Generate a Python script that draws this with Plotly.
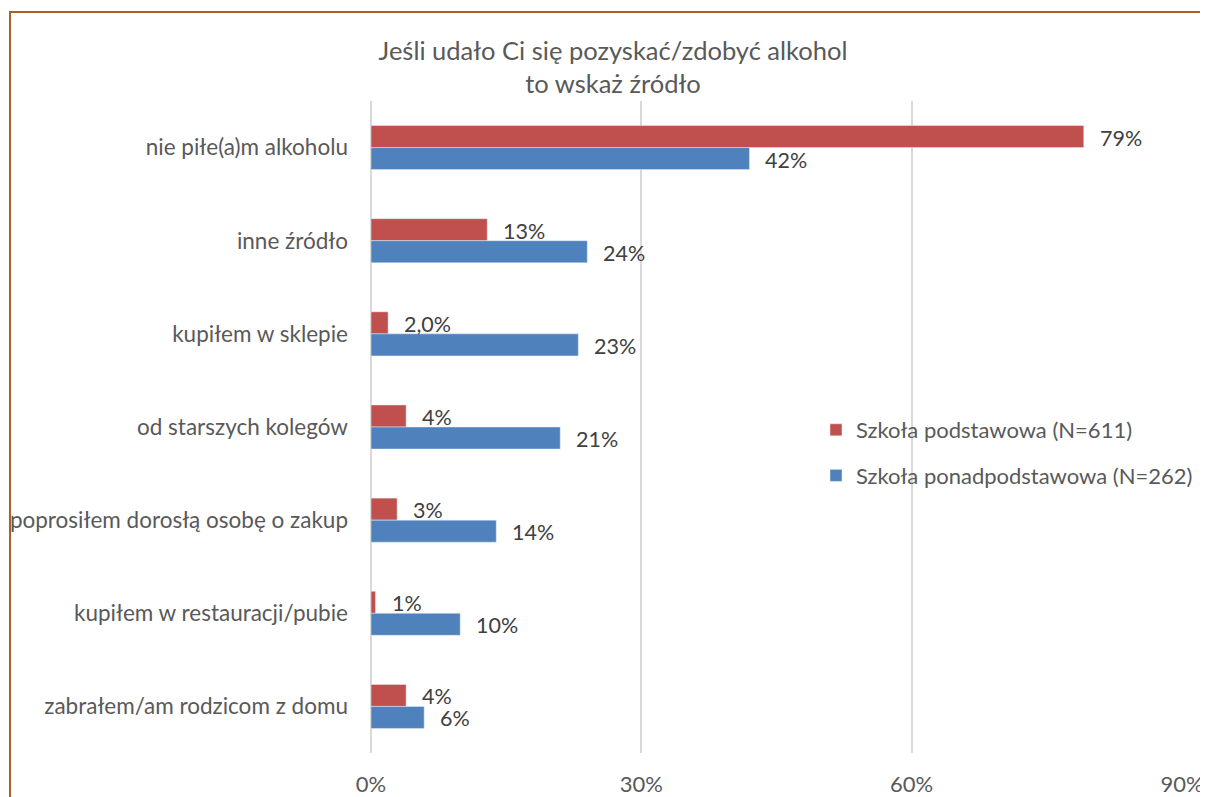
import plotly.graph_objects as go

categories = [
    "nie piłe(a)m alkoholu",
    "inne źródło",
    "kupiłem w sklepie",
    "od starszych kolegów",
    "poprosiłem dorosłą osobę o zakup",
    "kupiłem w restauracji/pubie",
    "zabrałem/am rodzicom z domu",
]
podstawowa = [79.1, 12.9, 1.9, 3.9, 2.9, 0.5, 3.9]
ponadpodstawowa = [42.0, 24.0, 23.0, 21.0, 13.9, 9.9, 5.9]
podstawowa_labels = ["79%", "13%", "2,0%", "4%", "3%", "1%", "4%"]
ponadpodstawowa_labels = ["42%", "24%", "23%", "21%", "14%", "10%", "6%"]
series_names = ["Szkoła podstawowa (N=611)", "Szkoła ponadpodstawowa (N=262)"]

RED = "#C0504D"
BLUE = "#4F81BD"
BROWN = "#AF5E24"
GREY_TEXT = "#595959"
FONT = "Lato, 'Open Sans', sans-serif"

# the page body has an 8px margin, so the figure is drawn 8px in from the window edge.
# The figure is made a bit wider than the window so the legend has room and
# the frame simply runs off the right edge, as in the original.
OFF = 8
W, H = 1240, 797 - OFF
PLOT_LEFT, PLOT_RIGHT, PLOT_TOP, PLOT_BOTTOM = 371, 1182, 101, 753
L = PLOT_LEFT - OFF
R = W - (PLOT_RIGHT - OFF)
T = PLOT_TOP - OFF
B = H - (PLOT_BOTTOM - OFF)
BAR_GAP = 0.527


def px_x(x):
    # page pixel -> paper coordinate
    return (x - PLOT_LEFT) / (PLOT_RIGHT - PLOT_LEFT)


def px_y(y):
    return (PLOT_BOTTOM - y) / (PLOT_BOTTOM - PLOT_TOP)


fig = go.Figure()
fig.add_trace(go.Bar(
    y=categories, x=podstawowa, orientation="h", name=series_names[0],
    marker={"color": RED}, legendgroup="a",
))
fig.add_trace(go.Bar(
    y=categories, x=ponadpodstawowa, orientation="h", name=series_names[1],
    marker={"color": BLUE}, legendgroup="b",
))

# value labels sit just right of each bar
half = (1 - BAR_GAP) / 4
for values, labels, offset in (
    (podstawowa, podstawowa_labels, -half),
    (ponadpodstawowa, ponadpodstawowa_labels, half),
):
    for i, (v, lab) in enumerate(zip(values, labels)):
        fig.add_annotation(
            x=v, y=i + offset, text=lab, showarrow=False,
            xanchor="left", xshift=14, yshift=-1,
            font={"size": 21.5, "color": "#404040", "family": FONT},
        )

fig.update_layout(
    width=W, height=H,
    margin={"l": L, "r": R, "t": T, "b": B},
    paper_bgcolor="white", plot_bgcolor="white",
    barmode="group", bargap=BAR_GAP, bargroupgap=0,
    font={"family": FONT, "color": GREY_TEXT},
    title={
        "text": "Jeśli udało Ci się pozyskać/zdobyć alkohol<br>to wskaż źródło",
        "x": (613 - OFF) / W, "xanchor": "center",
        "y": 1 - (60 - OFF) / H, "yanchor": "middle",
        "font": {"size": 25.5, "color": GREY_TEXT, "family": FONT},
    },
    legend={
        "x": px_x(816), "y": px_y(453),
        "xanchor": "left", "yanchor": "middle",
        "font": {"size": 22, "color": GREY_TEXT, "family": FONT},
        "tracegroupgap": 14, "itemwidth": 30,
        "bgcolor": "rgba(0,0,0,0)",
    },
    showlegend=True,
)

fig.update_xaxes(
    range=[0, 90], dtick=30, ticksuffix="%", showgrid=True, automargin=False,
    gridcolor="#D9D9D9", gridwidth=2, zeroline=True, zerolinecolor="#D9D9D9",
    zerolinewidth=2, showline=False, ticks="",
    tickfont={"size": 22, "color": GREY_TEXT, "family": FONT},
    ticklabelstandoff=16,
)
fig.update_yaxes(
    autorange="reversed", showgrid=False, ticks="", showline=False,
    automargin=False,
    tickfont={"size": 22.5, "color": GREY_TEXT, "family": FONT},
    ticklabelstandoff=22,
)

# chart frame (runs off the right and bottom edges)
fig.add_shape(
    type="rect", xref="paper", yref="paper",
    x0=px_x(10), x1=px_x(1260), y0=px_y(830), y1=px_y(12),
    line={"color": BROWN, "width": 2}, fillcolor="rgba(0,0,0,0)", layer="below",
)

fig.write_html("out.html")
